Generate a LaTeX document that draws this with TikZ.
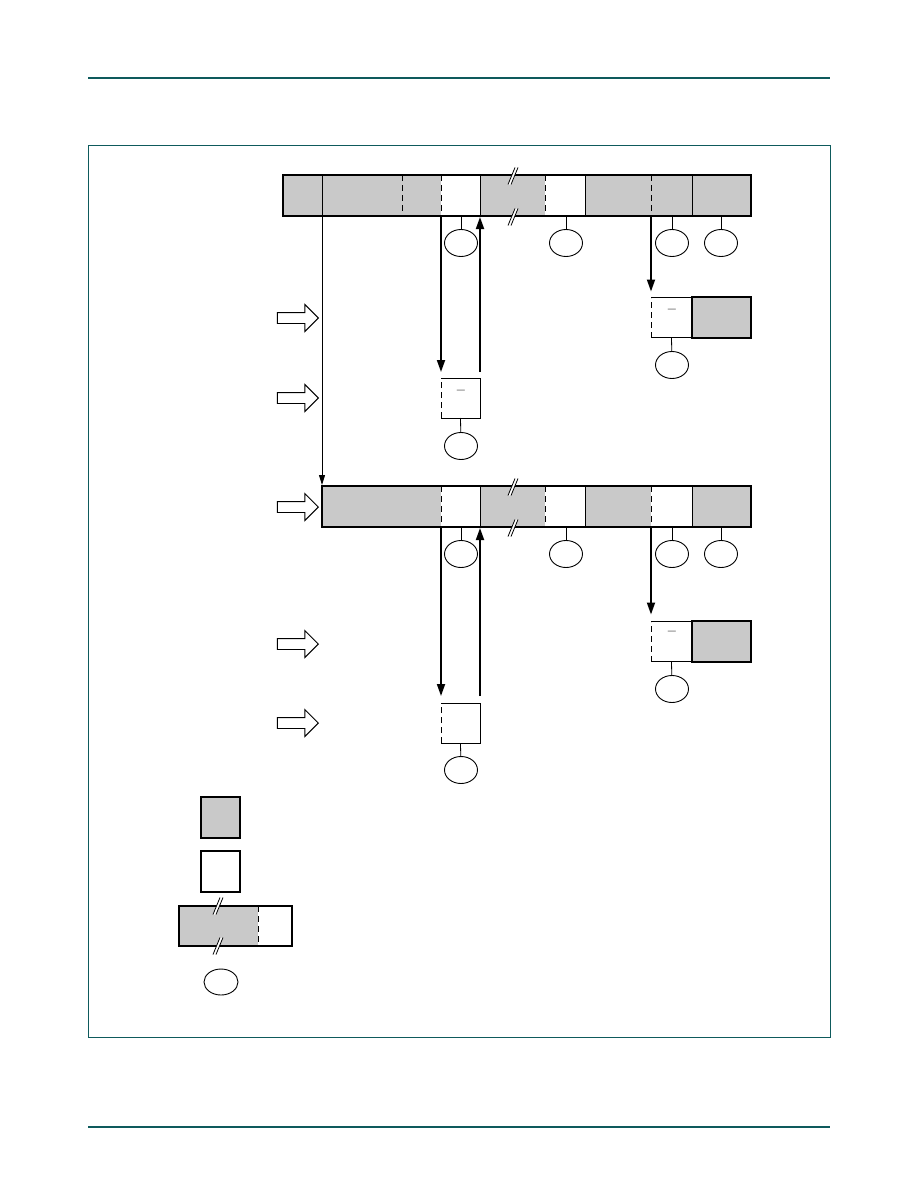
\documentclass[tikz,border=0pt]{standalone}
\usetikzlibrary{arrows.meta,shapes.arrows,shapes.geometric,positioning}
\definecolor{ruleteal}{HTML}{0E5A5C}
\definecolor{cellgray}{gray}{0.79}
\tikzset{
  outer/.style={line width=1.5pt},
  sep/.style={line width=0.8pt},
  dsep/.style={line width=0.9pt, dash pattern=on 6pt off 4pt},
  flow/.style={line width=1.8pt, -{Triangle[length=12pt,width=8pt]}},
  thinflow/.style={line width=0.9pt, -{Triangle[length=10pt,width=6pt]}},
  pin/.style={draw, ellipse, line width=0.9pt, minimum width=33pt, minimum height=27pt, inner sep=0pt},
  cellbox/.style={minimum width=39pt, minimum height=40pt, inner sep=0pt, outer sep=0pt},
  graybox/.style={cellbox, draw, fill=cellgray, line width=1.3pt},
  feed/.style={draw, single arrow, single arrow head extend=8pt, single arrow head indent=0pt,
    inner sep=5pt, minimum height=41pt, line width=0.9pt, anchor=tip, fill=white},
  dashmark/.style={inner sep=0pt, font=\Large\bfseries},
  brk/.style={line width=0.8pt},
}
\begin{document}
\begin{tikzpicture}[x=1pt,y=-1pt]
  \useasboundingbox (0,0) rectangle (918,1188);
  % page rules and frame
  \draw[ruleteal, line width=1.1pt] (88,78) -- (830,78);
  \draw[ruleteal, line width=1.1pt] (88,1127) -- (830,1127);
  \draw[ruleteal, line width=0.9pt] (88,145) rectangle (830,1037);

  % upper record
  \fill[cellgray] (283,175) rectangle (751,216);
  \fill[white] (441,175) rectangle (480,216) (545,175) rectangle (585,216);
  \foreach \x in {322,480,585,692} \draw[sep] (\x,175) -- (\x,216);
  \foreach \x in {402,441,545,651} \draw[dsep] (\x,175) -- (\x,216);
  \draw[outer] (283,175) rectangle (751,216);

  % lower record
  \fill[cellgray] (322,486) rectangle (751,527);
  \fill[white] (441,486) rectangle (480,527) (545,486) rectangle (585,527)
    (651,486) rectangle (692,527);
  \foreach \x in {480,585,692} \draw[sep] (\x,486) -- (\x,527);
  \foreach \x in {441,545,651} \draw[dsep] (\x,486) -- (\x,527);
  \draw[outer] (322,486) rectangle (751,527);

  % legend bar
  \fill[cellgray] (179,906) rectangle (258,946);
  \draw[dsep] (258,906) -- (258,946);
  \draw[outer] (179,906) rectangle (292,946);

  % break marks
  \foreach \bx/\by in {513/176,513/217,513/487,513/528,218/906,218/946} {
    \fill[white] (\bx-5,\by+8.5) -- (\bx+2,\by-8.5) -- (\bx+5,\by-8.5) -- (\bx-2,\by+8.5) -- cycle;
    \draw[brk] (\bx-5,\by+8.5) -- (\bx+2,\by-8.5) (\bx-2,\by+8.5) -- (\bx+5,\by-8.5);
  }

  % record points
  \coordinate (r1a) at (322,216);
  \coordinate (r1b) at (441,216);
  \coordinate (r1c) at (480,216);
  \coordinate (r1d) at (651,216);
  \coordinate (r2top) at (322,486);
  \coordinate (r2b) at (441,527);
  \coordinate (r2c) at (480,527);
  \coordinate (r2d) at (651,527);

  % pins under the records
  \foreach \x [count=\i] in {461,566,672,721} {
    \coordinate (s1\i) at (\x,216);
    \node[pin] (p1\i) at (\x,243) {};
    \draw[sep] (s1\i) -- (p1\i);
    \coordinate (s2\i) at (\x,527);
    \node[pin] (p2\i) at (\x,554) {};
    \draw[sep] (s2\i) -- (p2\i);
  }

  % first copy-out
  \node[cellbox] (sub1) at (460.5,398) {};
  \draw[sep] (sub1.north west) -- (sub1.north east) -- (sub1.south east) -- (sub1.south west);
  \draw[dsep] (sub1.south west) -- (sub1.north west);
  \node[dashmark] (dash1) at (461,392) {--};
  \node[pin] (q1) at (461,446) {};
  \draw[sep] (sub1.south) -- (q1);
  \draw[flow, shorten >=6pt] (r1b) -- (sub1.north west);
  \draw[flow, shorten <=6pt, shorten >=1pt] (sub1.north east) -- (r1c);

  % first tail
  \node[cellbox, minimum width=41pt] (sub2w) at (671.5,317.5) {};
  \node[graybox, minimum width=59pt, minimum height=41pt, right=0pt of sub2w] (sub2g) {};
  \draw[sep] (sub2w.north west) -- (sub2w.north east) (sub2w.south west) -- (sub2w.south east);
  \draw[dsep] (sub2w.south west) -- (sub2w.north west);
  \node[dashmark] (dash2) at (672,311) {--};
  \node[pin] (q2) at (672,365) {};
  \draw[sep] (sub2w.south) -- (q2);
  \draw[flow, shorten >=6pt] (r1d) -- (sub2w.north west);

  % second copy-out
  \node[cellbox] (sub3) at (460.5,723) {};
  \draw[sep] (sub3.north west) -- (sub3.north east) -- (sub3.south east) -- (sub3.south west);
  \draw[dsep] (sub3.south west) -- (sub3.north west);
  \node[pin] (q3) at (461,770) {};
  \draw[sep] (sub3.south) -- (q3);
  \draw[flow, shorten >=7pt] (r2b) -- (sub3.north west);
  \draw[flow, shorten <=7pt, shorten >=1pt] (sub3.north east) -- (r2c);

  % second tail
  \node[cellbox, minimum width=41pt] (sub4w) at (671.5,641.5) {};
  \node[graybox, minimum width=59pt, minimum height=41pt, right=0pt of sub4w] (sub4g) {};
  \draw[sep] (sub4w.north west) -- (sub4w.north east) (sub4w.south west) -- (sub4w.south east);
  \draw[dsep] (sub4w.south west) -- (sub4w.north west);
  \node[dashmark] (dash4) at (672,633) {--};
  \node[pin] (q4) at (672,689) {};
  \draw[sep] (sub4w.south) -- (q4);
  \draw[flow, shorten >=7pt] (r2d) -- (sub4w.north west);

  % long move down
  \draw[thinflow, shorten >=1pt] (r1a) -- (r2top);

  % step arrows
  \foreach \y [count=\i] in {318,398,507,644,723}
    \node[feed] (step\i) at (319,\y) {};

  % legend
  \node[graybox, minimum height=41pt] (keyfull) at (220.5,817.5) {};
  \node[cellbox, draw, line width=1.3pt, minimum height=41pt] (keyfree) at (220.5,871.5) {};
  \node[pin, minimum width=34pt, minimum height=26pt] (keypin) at (221,982) {};
\end{tikzpicture}
\end{document}
